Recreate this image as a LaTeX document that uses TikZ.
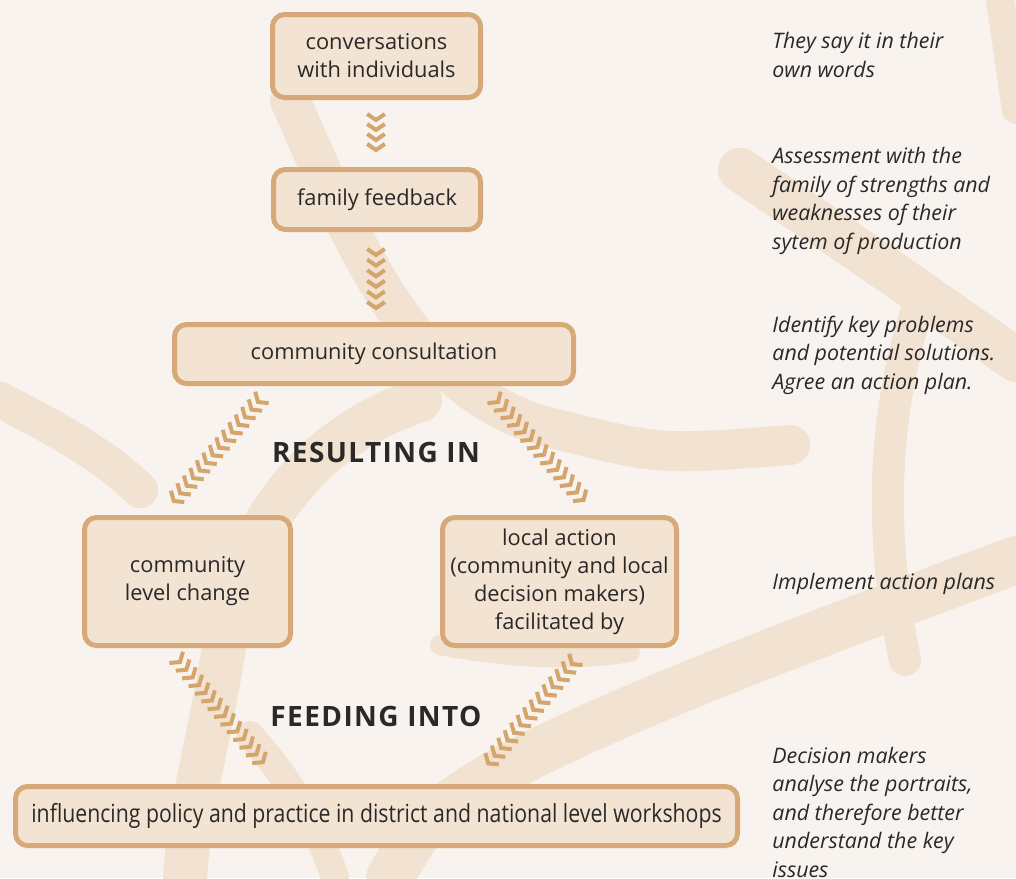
\documentclass[tikz,border=0pt]{standalone}
\usepackage{fontspec}
\setmainfont{Open Sans}
\newfontfamily\condfont{Open Sans}[FakeStretch=0.85]
\newfontfamily\spacedfont{Open Sans}[LetterSpace=5]
\usetikzlibrary{decorations.markings}

\definecolor{paper}{HTML}{F8F3EE}
\definecolor{brush}{HTML}{F1E2D1}
\definecolor{boxfill}{HTML}{F2E3D3}
\definecolor{boxline}{HTML}{D8A978}
\definecolor{chevcol}{HTML}{D5A56E}
\definecolor{ink}{HTML}{2A2928}

\tikzset{
  box/.style={draw=boxline, fill=boxfill, line width=2.5pt, rounded corners=6pt,
    align=center, text=ink, font=\fontsize{10.9}{14}\selectfont, inner sep=0pt},
  note/.style={anchor=base west, align=left, text=ink, inner sep=0pt,
    font=\fontsize{10.7}{14.25}\selectfont\itshape},
  head/.style={text=ink, inner sep=0pt, font=\spacedfont\bfseries\fontsize{14}{16}\selectfont},
  stroke/.style={draw=brush, line cap=round, line join=round},
  chev/.style={draw=chevcol, line width=2pt, line join=miter},
  chevrons/.style={decoration={markings,
      mark=between positions 0 and 1 step #1 with {\draw[chev] (-3pt,4.4pt) -- (0,0) -- (-3pt,-4.4pt);}},
    postaction={decorate}},
}

\begin{document}
\begin{tikzpicture}[x=0.5pt, y=-0.5pt]
  \fill[paper] (0,0) rectangle (1016,878);
  \useasboundingbox (0,0) rectangle (1016,878);

  % brush strokes in the background
  \draw[stroke, line width=20pt] (290,100) .. controls (360,260) and (420,400) .. (560,430) .. controls (660,455) .. (790,445);
  \draw[stroke, line width=18pt] (0,400) .. controls (60,430) and (110,460) .. (140,490);
  \draw[stroke, line width=22pt] (420,400) .. controls (300,440) and (240,540) .. (225,640) .. controls (210,740) and (190,800) .. (185,878);
  \draw[stroke, line width=14pt] (250,735) .. controls (290,780) and (320,830) .. (335,878);
  \draw[stroke, line width=10pt] (440,645) .. controls (520,660) and (580,660) .. (630,652);
  \draw[stroke, line width=22pt] (740,170) .. controls (860,250) and (960,320) .. (1016,360);
  \draw[stroke, line width=14pt] (1000,0) -- (1016,110);
  \draw[stroke, line width=24pt] (1016,560) .. controls (800,640) and (560,730) .. (470,790) .. controls (420,825) .. (390,878);
  \draw[stroke, line width=16pt] (920,300) .. controls (880,420) and (880,540) .. (905,660);

  % boxes
  \node[box, minimum width=104pt, minimum height=41.5pt] (conv) at (376.5,56) {conversations\\with individuals};
  \node[box, minimum width=103.5pt, minimum height=30pt] (family) at (377,199.5) {family feedback};
  \node[box, minimum width=199.5pt, minimum height=29.5pt] (consult) at (374,354) {community consultation};
  \node[box, minimum width=103pt, minimum height=64pt] (level) at (187.5,581.5) {community\\level change};
  \node[box, minimum width=117pt, minimum height=64pt] (local) at (559.5,581.5) {local action\\(community and local\\decision makers)\\facilitated by};
  \node[box, minimum width=361pt, minimum height=29.5pt] (policy) at (376.5,816)
    {\condfont\fontsize{12.5}{14}\selectfont influencing policy and practice in district and national level workshops};

  \node[head] (result) at (376,452) {RESULTING IN};
  \node[head] (feed) at (376,716) {FEEDING INTO};

  % chevron chains
  \coordinate (c1a) at (376,120);  \coordinate (c1b) at (376,152);
  \coordinate (c2a) at (376,255);  \coordinate (c2b) at (376,310);
  \coordinate (c3a) at (258,402);  \coordinate (c3b) at (172,503);
  \coordinate (c4a) at (498,402);  \coordinate (c4b) at (588,505);
  \coordinate (c5a) at (180,662);  \coordinate (c5b) at (266,766);
  \coordinate (c6a) at (572,664);  \coordinate (c6b) at (486,766);
  \path[chevrons=5pt] (c1a) -- (c1b);
  \path[chevrons=5.3pt] (c2a) -- (c2b);
  \path[chevrons=5pt] (c3a) -- (c3b);
  \path[chevrons=5pt] (c4a) -- (c4b);
  \path[chevrons=5pt] (c5a) -- (c5b);
  \path[chevrons=5pt] (c6a) -- (c6b);

  % notes on the right
  \node[note] (say) at (772,77) {They say it in their\\own words};
  \node[note] (assess) at (772,249) {Assessment with the\\family of strengths and\\weaknesses of their\\sytem of production};
  \node[note] (identify) at (772,389) {Identify key problems\\and potential solutions.\\Agree an action plan.};
  \node[note] (implement) at (772,589) {Implement action plans};
  \node[note] (decide) at (772,877) {Decision makers\\analyse the portraits,\\and therefore better\\understand the key\\issues};
\end{tikzpicture}
\end{document}
